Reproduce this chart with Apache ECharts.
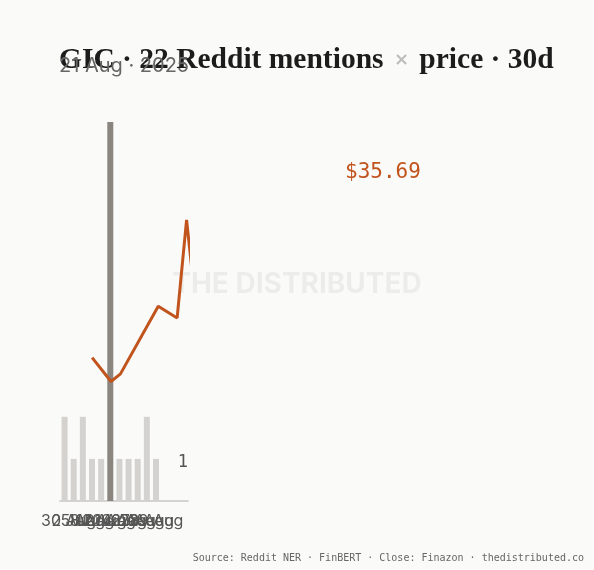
<!DOCTYPE html>
<html>
<head>
	<meta charset="utf-8" />
	<title>GIC Reddit mentions x price</title>
	<style>
		* { padding: 0; margin: 0; }
		html, body { background: #fafaf8; }
		#main { width: 594px; height: 570px; }
	</style>
</head>
<body>
	<div id="main"></div>
</body>
<script src="https://cdn.jsdelivr.net/npm/echarts@6/dist/echarts.min.js"></script>
<script type="text/javascript">
	// mentions per day (bars)
	var mentionDates = ['30 Jul', '2 Aug', '5 Aug', '8 Aug', '12 Aug', '21 Aug', '24 Aug', '26 Aug', '27 Aug', '28 Aug', '29 Aug'];
	var mentionCounts = [2, 1, 2, 1, 1, 9, 1, 1, 1, 2, 1];
	var peakIndex = 5;
	var peakLabel = '21 Aug · 2025';

	// close price, x = day slot
	var priceDays = [3, 5, 6, 10, 12, 13, 14, 17, 19, 20, 24, 26, 27, 29];
	var priceClose = [32.46, 32.05, 32.18, 33.34, 33.14, 34.82, 33.3, 33.6, 34.4, 34.1, 35.0, 35.3, 35.1, 35.69];

	var chartDom = document.getElementById('main');
	var myChart = echarts.init(chartDom);
	var option;

	var barData = mentionCounts.map(function (v, i) {
		return {
			value: v,
			itemStyle: { color: i === peakIndex ? '#8a857e' : '#d4d2ce' }
		};
	});
	var lineData = priceDays.map(function (d, i) {
		return [d, priceClose[i]];
	});
	var lastPrice = priceClose[priceClose.length - 1];

	option = {
		backgroundColor: '#fafaf8',
		animation: false,
		title: [
			{
				text: '{b|GIC · 22 Reddit mentions }{x|×}{b| price · 30d}',
				left: 54,
				top: 40,
				textStyle: {
					rich: {
						b: { fontFamily: 'Liberation Serif', fontWeight: 'bold', fontSize: 29.5, color: '#1c1c1c' },
						x: { fontFamily: 'DejaVu Sans', fontSize: 18, color: '#bdbdbd', padding: [0, 3, 0, 3] }
					}
				}
			},
			{
				text: peakLabel,
				left: 119,
				top: 51,
				textAlign: 'center',
				textStyle: { fontFamily: 'Inter', fontWeight: 'normal', fontSize: 20, color: '#666' }
			},
			{
				text: 'Source: Reddit NER · FinBERT · Close: Finazon · thedistributed.co',
				right: 5,
				bottom: 2,
				textStyle: { fontFamily: 'DejaVu Sans Mono', fontWeight: 'normal', fontSize: 10, color: '#666' }
			}
		],
		graphic: [
			{
				type: 'text',
				left: 'center',
				top: 271,
				z: -1,
				style: { text: 'THE DISTRIBUTED', font: 'bold 28px Inter', fill: 'rgba(0,0,0,0.055)' }
			},
			{
				type: 'text',
				left: 345,
				top: 162,
				style: { text: '$' + lastPrice.toFixed(2), font: '500 21px "DejaVu Sans Mono"', fill: '#c1531d' }
			}
		],
		grid: { left: 60, right: 406, top: 122, bottom: 69 },
		xAxis: [
			{
				type: 'category',
				data: mentionDates,
				max: 13,
				axisLine: { lineStyle: { color: '#c8c6c1', width: 1.5 } },
				axisTick: { show: false },
				axisLabel: {
					interval: 0,
					margin: 12,
					fontFamily: 'Inter',
					fontSize: 16,
					color: '#555',
					formatter: function (v) { return v == null ? '' : v; }
				}
			},
			{
				type: 'value',
				show: false,
				min: -0.4,
				max: 13.15
			}
		],
		yAxis: [
			{
				type: 'value',
				min: 0,
				max: 9,
				interval: 1,
				position: 'right',
				splitLine: { show: false },
				axisLine: { show: false },
				axisTick: { show: false },
				axisLabel: {
					inside: true,
					margin: 0,
					formatter: function (v) { return v === 1 ? '{n|1}' : ''; },
					rich: {
						n: {
							fontFamily: 'DejaVu Sans Mono',
							fontSize: 17,
							color: '#555',
							padding: [8, 0, 0, 0]
						}
					}
				}
			},
			{
				type: 'value',
				show: false,
				min: 30,
				max: 36.5
			}
		],
		series: [
			{
				type: 'bar',
				xAxisIndex: 0,
				yAxisIndex: 0,
				barWidth: 6,
				data: barData
			},
			{
				type: 'line',
				xAxisIndex: 1,
				yAxisIndex: 1,
				data: lineData,
				symbol: 'none',
				lineStyle: { color: '#c1531d', width: 3 },
				z: 3
			}
		]
	};
	myChart.setOption(option);
</script>
</html>
